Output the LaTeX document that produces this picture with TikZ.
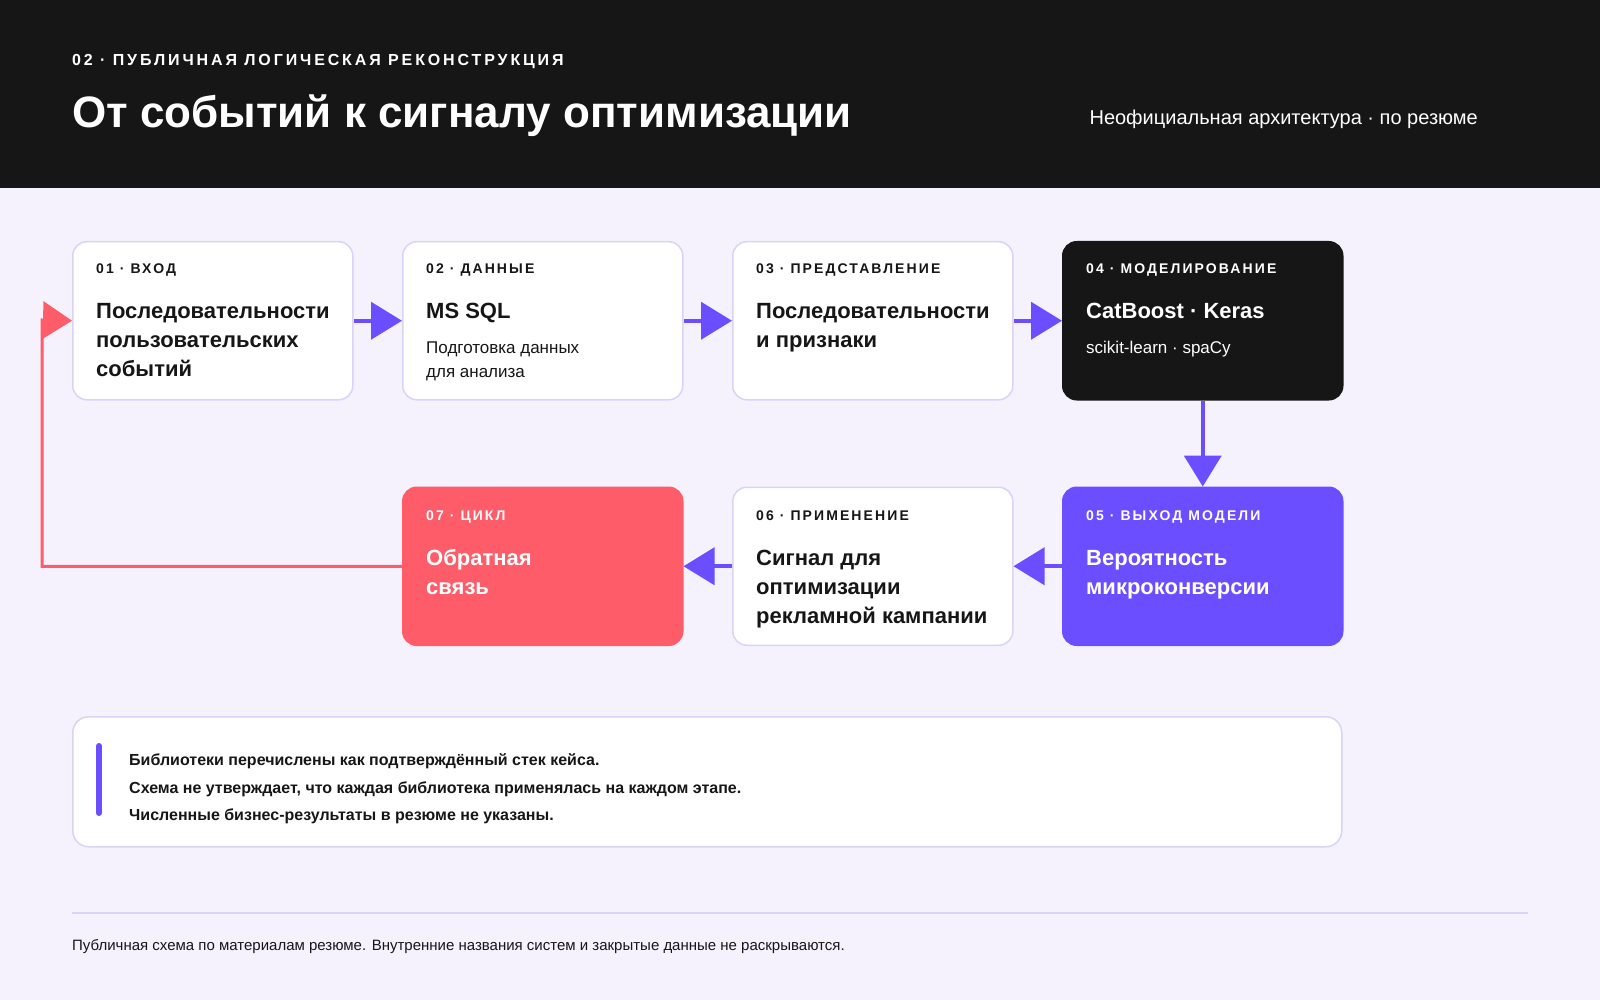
\documentclass[tikz,border=0pt]{standalone}
\usepackage{fontspec}
\setmainfont{Liberation Sans}
\newfontfamily\tagfont[LetterSpace=15]{Liberation Sans}
\newfontfamily\kickerfont[LetterSpace=18]{Liberation Sans}
\usetikzlibrary{positioning,arrows.meta}

\definecolor{pagebg}{HTML}{F5F2FE}
\definecolor{ink}{HTML}{161616}
\definecolor{edge}{HTML}{DAD3F7}
\definecolor{flowviolet}{HTML}{6B4EFF}
\definecolor{loopred}{HTML}{FF5C6A}

\tikzset{
    stage/.style={draw=edge, line width=1.5pt, fill=white, rounded corners=14pt,
        minimum width=280pt, minimum height=158pt, inner sep=0pt},
    tag/.style={anchor=base west, inner sep=0pt, text=ink,
        font=\tagfont\bfseries\fontsize{14}{14}\selectfont},
    head/.style={anchor=base west, inner sep=0pt, align=left, text=ink,
        font=\bfseries\fontsize{22}{29}\selectfont},
    sub/.style={anchor=base west, inner sep=0pt, align=left, text=ink,
        font=\fontsize{17}{24}\selectfont},
    remark/.style={anchor=base west, inner sep=0pt, text=ink,
        font=\bfseries\fontsize{16}{16}\selectfont},
    flow/.style={draw=flowviolet, line width=4pt, -{Triangle[length=31pt,width=37pt]}},
    feedback/.style={draw=loopred, line width=3pt, -{Triangle[length=29pt,width=37pt]}},
}

\begin{document}
\begin{tikzpicture}[x=1pt,y=-1pt]
        \useasboundingbox (0,0) rectangle (1600,1000);
        \fill[pagebg] (0,0) rectangle (1600,1000);
        \fill[ink] (0,0) rectangle (1600,188);
        \node[anchor=base west, inner sep=0pt, text=white, font=\kickerfont\bfseries\fontsize{16}{16}\selectfont] (kicker) at (72,66) {02 · ПУБЛИЧНАЯ ЛОГИЧЕСКАЯ РЕКОНСТРУКЦИЯ};
        \node[anchor=base west, inner sep=0pt, text=white, font=\bfseries\fontsize{44}{44}\selectfont] (title) at (72,128) {От событий к сигналу оптимизации};
        \node[anchor=base east, inner sep=0pt, text=white, font=\fontsize{20}{20}\selectfont] (aside) at (1478,125) {Неофициальная архитектура · по резюме};

        \node[stage, anchor=north west] (input) at (72,241) {};
        \node[stage, right=48.5pt of input] (data) {};
        \node[stage, right=48.5pt of data] (repr) {};
        \node[stage, right=48.5pt of repr, fill=ink, draw=ink] (model) {};
        \node[stage, below=86pt of model, fill=flowviolet, draw=flowviolet] (output) {};
        \node[stage, left=48.5pt of output] (apply) {};
        \node[stage, left=48.5pt of apply, fill=loopred, draw=loopred] (loop) {};

        \node[tag] (t1) at (96,273) {01 · ВХОД};
        \node[head] (h1) at (96,376) {Последовательности\\пользовательских\\событий};
        \node[tag] (t2) at (426,273) {02 · ДАННЫЕ};
        \node[head] (h2) at (426,318) {MS SQL};
        \node[sub] (s2) at (426,377) {Подготовка данных\\для анализа};
        \node[tag] (t3) at (756,273) {03 · ПРЕДСТАВЛЕНИЕ};
        \node[head] (h3) at (756,347) {Последовательности\\и признаки};
        \node[tag, text=white] (t4) at (1086,273) {04 · МОДЕЛИРОВАНИЕ};
        \node[head, text=white] (h4) at (1086,318) {CatBoost · Keras};
        \node[sub, text=white] (s4) at (1086,353) {scikit-learn · spaCy};
        \node[tag, text=white] (t5) at (1086,520) {05 · ВЫХОД МОДЕЛИ};
        \node[head, text=white] (h5) at (1086,594) {Вероятность\\микроконверсии};
        \node[tag] (t6) at (756,520) {06 · ПРИМЕНЕНИЕ};
        \node[head] (h6) at (756,623) {Сигнал для\\оптимизации\\рекламной кампании};
        \node[tag, text=white] (t7) at (426,520) {07 · ЦИКЛ};
        \node[head, text=white] (h7) at (426,594) {Обратная\\связь};

        \draw[flow] (input) -- (data);
        \draw[flow] (data) -- (repr);
        \draw[flow] (repr) -- (model);
        \draw[flow] (model) -- (output);
        \draw[flow] (output) -- (apply);
        \draw[flow] (apply) -- (loop);
        \coordinate (bend) at (42,320);
        \draw[feedback] (loop.west) -| (bend) -- (input.west);

        \node[stage, anchor=north west, minimum width=1269pt, minimum height=130pt, rounded corners=16pt] (notebox) at (72,716) {};
        \draw[flowviolet, line width=6pt, line cap=round] (99,746) -- (99,813);
        \node[remark] (n1) at (129,765) {Библиотеки перечислены как подтверждённый стек кейса.};
        \node[remark] (n2) at (129,793) {Схема не утверждает, что каждая библиотека применялась на каждом этапе.};
        \node[remark] (n3) at (129,820) {Численные бизнес-результаты в резюме не указаны.};

        \draw[edge, line width=1.5pt] (72,913) -- (1528,913);
        \node[anchor=base west, inner sep=0pt, text=ink, font=\fontsize{15}{15}\selectfont] (footer) at (72,950) {Публичная схема по материалам резюме. Внутренние названия систем и закрытые данные не раскрываются.};
\end{tikzpicture}
\end{document}
